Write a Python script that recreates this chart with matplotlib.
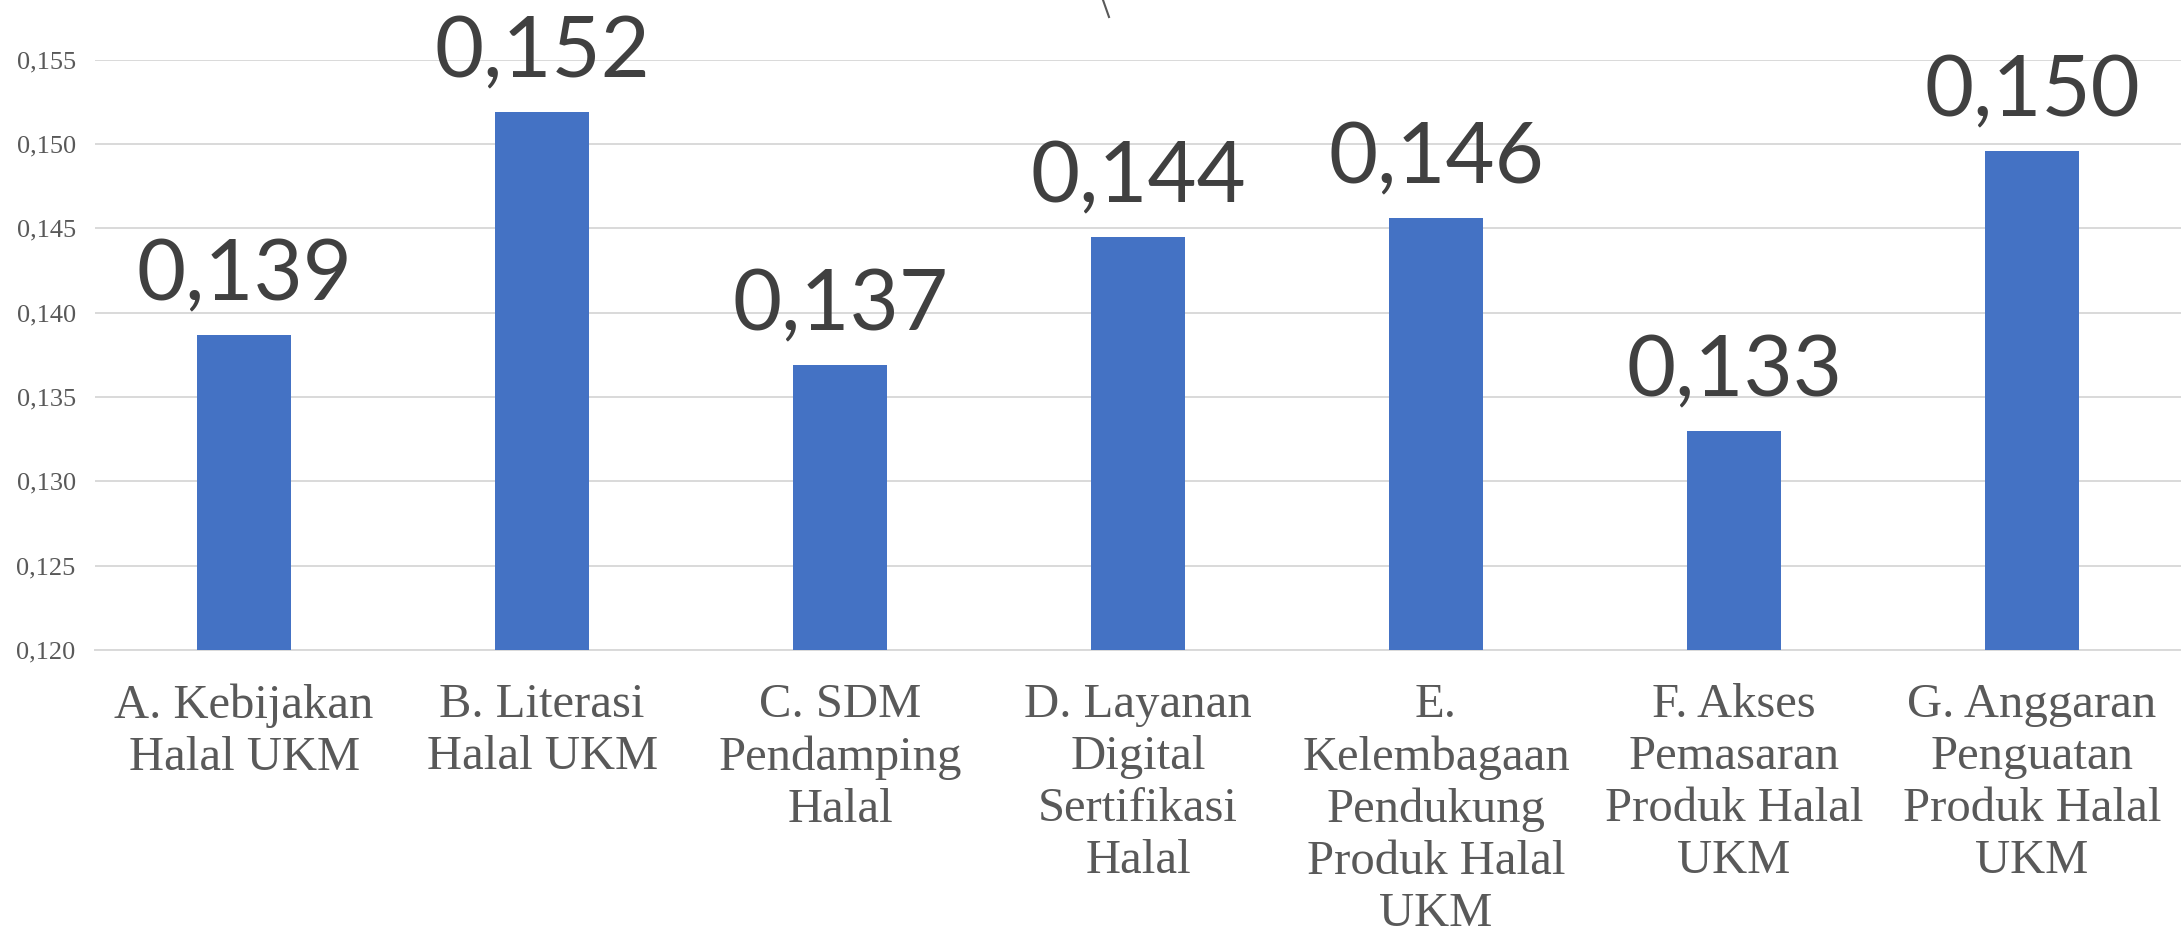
#!/usr/bin/env python3
"""Bar chart of halal UKM indicator weights."""

import matplotlib
matplotlib.use("Agg")
import matplotlib.pyplot as plt
from matplotlib.lines import Line2D
from matplotlib.ticker import FuncFormatter, MultipleLocator

categories = [
    "A. Kebijakan\nHalal UKM",
    "B. Literasi\nHalal UKM",
    "C. SDM\nPendamping\nHalal",
    "D. Layanan\nDigital\nSertifikasi\nHalal",
    "E.\nKelembagaan\nPendukung\nProduk Halal\nUKM",
    "F. Akses\nPemasaran\nProduk Halal\nUKM",
    "G. Anggaran\nPenguatan\nProduk Halal\nUKM",
]
values = [0.1387, 0.1519, 0.1369, 0.1445, 0.1456, 0.1330, 0.1496]
labels = ["0,139", "0,152", "0,137", "0,144", "0,146", "0,133", "0,150"]

BAR = "#4472C4"
GRID = "#D9D9D9"
TXT = "#595959"
LBL = "#404040"


def comma(v, _pos):
    return f"{v:.3f}".replace(".", ",")


fig = plt.figure(figsize=(21.81, 9.36), dpi=100)
ax = fig.add_axes([0.0436, 0.3056, 0.9564, 0.6305])

x = range(len(categories))
bars = ax.bar(x, values, width=0.313, color=BAR, zorder=3)

ax.set_xlim(-0.5, len(categories) - 0.5)
ax.set_ylim(0.120, 0.155)
ax.yaxis.set_major_locator(MultipleLocator(0.005))
ax.yaxis.set_major_formatter(FuncFormatter(comma))
ax.grid(axis="y", color=GRID, linewidth=1.4, zorder=0)
ax.set_axisbelow(True)

for s in ["top", "right", "left"]:
    ax.spines[s].set_visible(False)
ax.spines["bottom"].set_color(GRID)
ax.spines["bottom"].set_linewidth(1.4)

ax.set_xticks(list(x))
ax.set_xticklabels(categories, fontfamily="Liberation Serif", fontsize=35,
                   color=TXT, linespacing=1.23)
ax.tick_params(axis="x", length=0, pad=24)
ax.tick_params(axis="y", length=0, pad=14, labelsize=19, labelcolor=TXT)
for t in ax.get_yticklabels():
    t.set_fontfamily("Liberation Serif")

# value labels above bars
for b, lab in zip(bars, labels):
    ax.annotate(lab, xy=(b.get_x() + b.get_width() / 2, b.get_height()),
                xytext=(0, 25), textcoords="offset points",
                ha="center", va="baseline", fontsize=61, family="Lato",
                color=LBL, annotation_clip=False)

# stray stroke at top of the original image
fig.add_artist(Line2D([1103 / 2181, 1109 / 2181], [1.0, 1 - 17 / 936],
                      color=TXT, linewidth=1.5))

fig.savefig("out.png", dpi=100, facecolor="white")
